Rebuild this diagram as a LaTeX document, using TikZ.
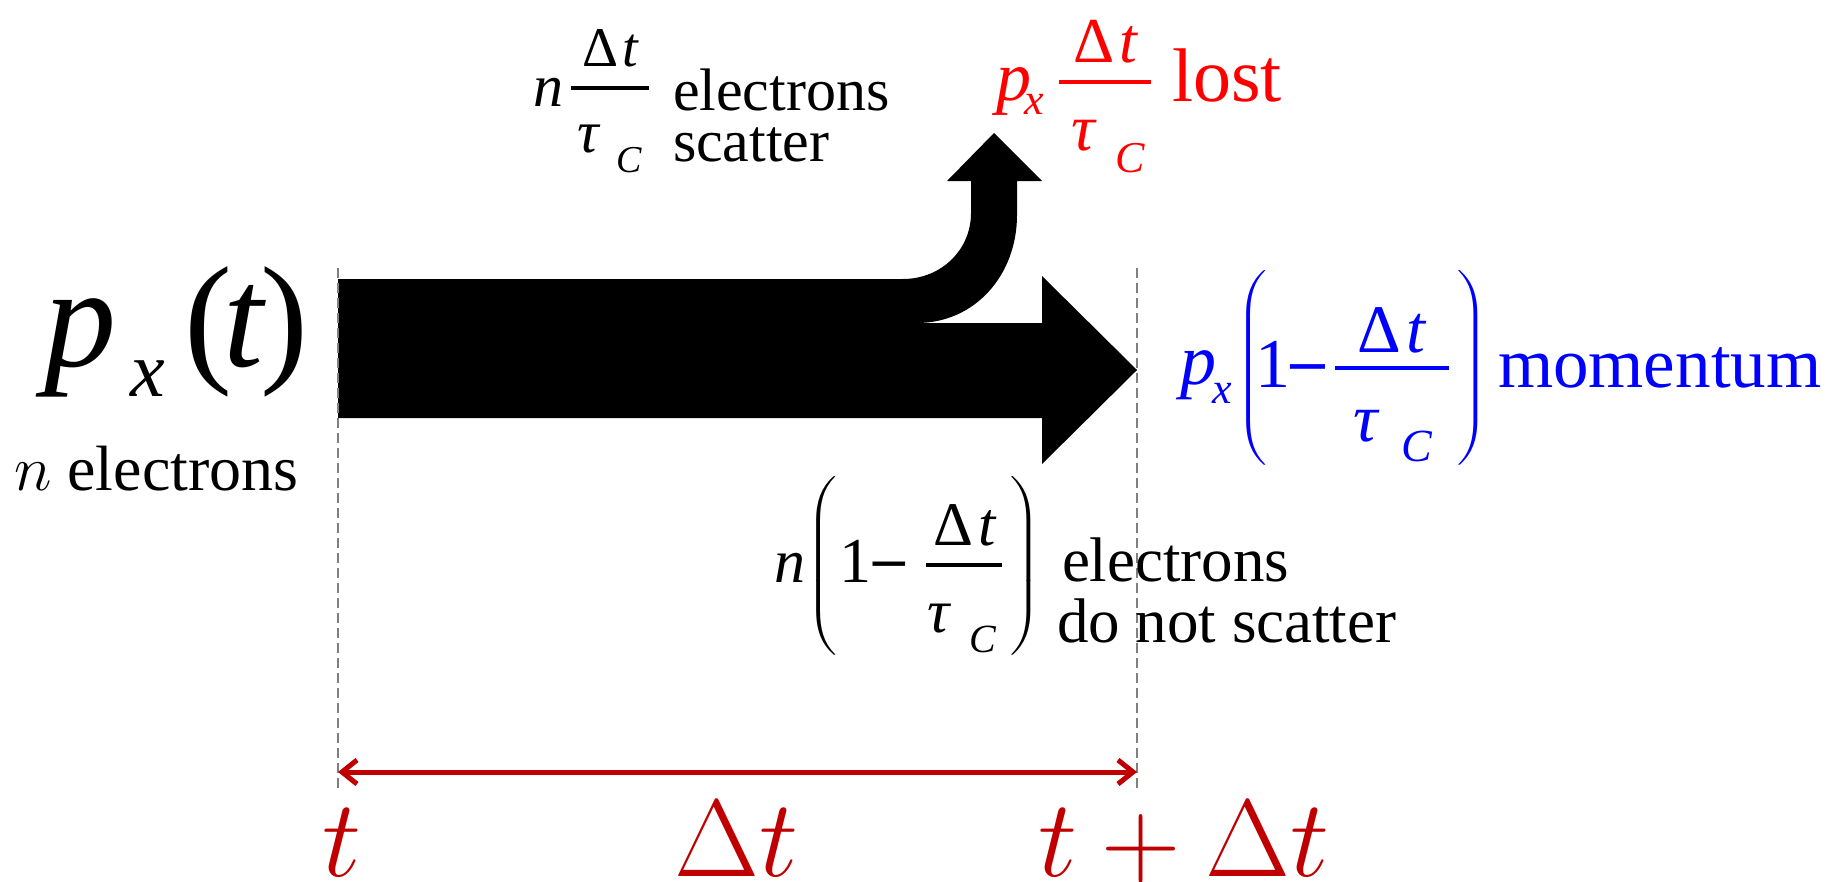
\RequirePackage{fix-cm}
\documentclass[tikz,border=0pt]{standalone}
\usepackage{amsmath}
\usepackage{graphicx}
\usepackage[no-math]{fontspec}
\setmainfont{Liberation Serif}
\newfontfamily\dvs{DejaVu Sans}
\usetikzlibrary{arrows.meta}
\definecolor{darkred}{RGB}{192,0,0}
\definecolor{dashgray}{RGB}{128,128,128}
\definecolor{myblue}{RGB}{0,0,255}
\definecolor{myred}{RGB}{255,0,0}
\newcommand{\fs}[1]{\fontsize{#1}{#1}\selectfont}
\newcommand{\Dt}{Δ\kern0.08em\textit{t}}
\newcommand{\LP}[2]{\scalebox{1.4}[1]{$\left(\vrule height #1 depth #2 width 0pt\right.$}}
\newcommand{\RP}[2]{\scalebox{1.4}[1]{$\left.\vrule height #1 depth #2 width 0pt\right)$}}
\delimiterfactor=1000
\delimitershortfall=0pt
\tikzset{
  pc/.style={anchor=base west, inner sep=0pt, outer sep=0pt},
  pcc/.style={anchor=base, inner sep=0pt, outer sep=0pt},
  fbar/.style={inner sep=0pt, minimum height=4pt, anchor=center},
  guide/.style={dashgray, line width=2pt, dash pattern=on 10pt off 5pt},
  span/.style={darkred, line width=5pt, {Straight Barb[length=15pt,width=24pt]}-{Straight Barb[length=15pt,width=24pt]}},
  bottomlbl/.style={darkred, anchor=base, inner sep=0pt, font=\fs{110}}
}
\begin{document}
\begin{tikzpicture}[x=1pt,y=-1pt]
\fill[white] (0,0) rectangle (1843,881);
\useasboundingbox (0,0) rectangle (1843,881);

% main arrow with branch
\fill[black] (338,279) -- (903,279)
  .. controls (941,279) and (971,250) .. (971,213)
  -- (971,181) -- (947,181) -- (994,133) -- (1042,181) -- (1017,181) -- (1017,215)
  .. controls (1017,275) and (975,323) .. (917,323)
  -- (1042,323) -- (1042,276) -- (1137,370) -- (1042,464) -- (1042,418) -- (338,418) -- cycle;

% guide lines
\coordinate (g1a) at (338,268); \coordinate (g1b) at (338,790);
\coordinate (g2a) at (1137,268); \coordinate (g2b) at (1137,790);
\draw[guide] (g1a) -- (g1b);
\draw[guide] (g2a) -- (g2b);

% time span arrow
\coordinate (sL) at (338,772);
\coordinate (sR) at (1137,772);
\draw[span] (sL) -- (sR);

% ---- left: p_x(t), n electrons
\node[pc, font=\fs{144}\itshape] (pbig) at (44,366) {p};
\node[pc, font=\fs{78}\itshape] (xbig) at (130,396) {x};
\node[pc, font=\fs{144}] (tbig) at (184,366) {(\kern-8pt\textit{t}\kern-6pt)};
\node[pc, font=\fs{64}] (nel) at (14,490) {$n$ electrons};

% ---- top label: n dt/tau electrons scatter
\node[pc, font=\fs{60}\itshape] (sn) at (533,106) {n};
\node[fbar, fill=black, minimum width=78pt] (sbar) at (610,88) {};
\node[pcc, font=\fs{56}] (snum) at (611,66) {\Dt};
\node[pc, font=\fs{60}\itshape] (stau) at (577,152) {τ};
\node[pc, font=\fs{38}\itshape] (sC) at (616,172) {C};
\node[pc, font=\fs{60}] (sc2) at (673,110) {electrons};
\node[pc, font=\fs{60}] (sc3) at (673,161) {scatter};

% ---- red label: p_x dt/tau lost
\node[pc, myred, font=\fs{70}\itshape] (rp) at (996,100) {p};
\node[pc, myred, font=\fs{44}\itshape] (rx) at (1024,114) {x};
\node[fbar, fill=myred, minimum width=92pt] (rbar) at (1105,82) {};
\node[pcc, myred, font=\fs{64}] (rnum) at (1106,62) {\Dt};
\node[pc, myred, font=\fs{66}\itshape] (rtau) at (1071,150) {τ};
\node[pc, myred, font=\fs{44}\itshape] (rC) at (1115,172) {C};
\node[pc, myred, font=\fs{76}] (lost) at (1172,101) {lost};

% ---- blue label
\node[pc, myblue, font=\fs{72}\itshape] (bp) at (1180,384) {p};
\node[pc, myblue, font=\fs{44}\itshape] (bx) at (1212,403) {x};
\node[pc, myblue, font=\fs{64}] (blp) at (1236,384) {\LP{109pt}{77pt}};
\node[pc, myblue, font=\fs{70}] (b1) at (1255,387) {1};
\node[pc, myblue, font=\fs{56}\dvs] (bm) at (1284,384) {−};
\node[fbar, fill=myblue, minimum width=114pt] (bbar) at (1392,368) {};
\node[pcc, myblue, font=\fs{68}] (bnum) at (1392,352) {\Dt};
\node[pc, myblue, font=\fs{68}\itshape] (btau) at (1353,441) {τ};
\node[pc, myblue, font=\fs{46}\itshape] (bC) at (1401,461) {C};
\node[pc, myblue, font=\fs{64}] (brp) at (1456,384) {\RP{109pt}{77pt}};
\node[pc, myblue, font=\fs{71}] (mom) at (1498,387) {momentum};

% ---- lower black label
\node[pc, font=\fs{62}\itshape] (kn) at (774,582) {n};
\node[pc, font=\fs{64}] (klp) at (806,582) {\LP{103pt}{71pt}};
\node[pc, font=\fs{64}] (k1) at (839,582) {1};
\node[pc, font=\fs{52}\dvs] (km) at (867,580) {−};
\node[fbar, fill=black, minimum width=76pt] (kbar) at (964,565) {};
\node[pcc, font=\fs{62}] (knum) at (965,545) {\Dt};
\node[pc, font=\fs{62}\itshape] (ktau) at (927,632) {τ};
\node[pc, font=\fs{40}\itshape] (kC) at (969,652) {C};
\node[pc, font=\fs{64}] (krp) at (1009,582) {\RP{103pt}{71pt}};
\node[pc, font=\fs{63}] (ke) at (1062,581) {electrons};
\node[pc, font=\fs{63}] (kd) at (1057,642) {do not scatter};

% ---- bottom time labels
\node[bottomlbl] (t0) at (342,876) {$t$};
\node[bottomlbl] (dt) at (736,876) {$\Delta t$};
\node[bottomlbl] (t1) at (1184,876) {$t+\Delta t$};
\end{tikzpicture}
\end{document}
